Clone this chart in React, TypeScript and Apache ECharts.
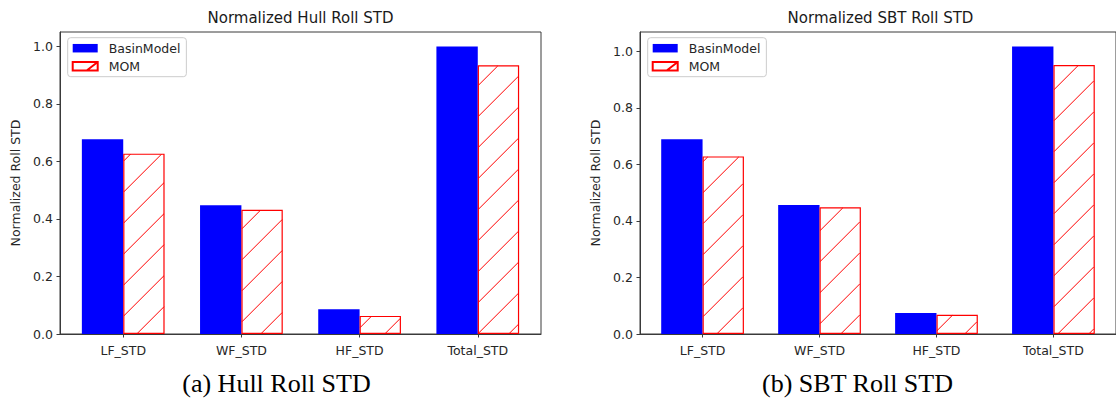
import React, { useRef, useEffect } from 'react';
import * as echarts from 'echarts';

// data
const categories = ['LF_STD', 'WF_STD', 'HF_STD', 'Total_STD'];
const hullBasin = [0.677, 0.448, 0.086, 1.0];
const hullMom = [0.627, 0.432, 0.063, 0.934];
const sbtBasin = [0.689, 0.456, 0.074, 1.017];
const sbtMom = [0.628, 0.448, 0.068, 0.951];
const yTicks = [0, 0.2, 0.4, 0.6, 0.8, 1.0];
const xTicks = categories.map((_, i) => i);

const BAR_W = 0.35;
const AXIS = '#3a3a3a';
const TEXT = '#262626';
const FONT = 'DejaVu Sans';

// matplotlib-like x limits: bar extent plus 5% margin
const span = categories.length - 1 + 2 * BAR_W;
const xMin = -BAR_W - 0.05 * span;
const xMax = categories.length - 1 + BAR_W + 0.05 * span;

const panels = [
  { title: 'Normalized Hull Roll STD', caption: '(a) Hull Roll STD', basin: hullBasin, mom: hullMom, left: 60, width: 481, captionX: 276.5, phase: 5.7 },
  { title: 'Normalized SBT Roll STD', caption: '(b) SBT Roll STD', basin: sbtBasin, mom: sbtMom, left: 640, width: 481, captionX: 857.5, phase: 27.7 },
];

const GRID_TOP = 32;
const GRID_H = 302;

const hatchRender = (phase: number) => (params: any, api: any) => {
  const i = api.value(0);
  const v = api.value(1);
  const base = api.coord([i, 0]);
  const top = api.coord([i, v]);
  const w = api.size([BAR_W, 0])[0];
  const x0 = base[0] + 0.6;
  const x1 = base[0] + w - 0.6;
  const y0 = top[1] + 0.6;
  const y1 = base[1];
  const step = 31;
  const children: any[] = [];
  let c = Math.floor((x0 + y0 - phase) / step) * step + phase;
  for (; c <= x1 + y1; c += step) {
    const xa = Math.max(x0, c - y1);
    const xb = Math.min(x1, c - y0);
    if (xb - xa < 0.5) continue;
    children.push({
      type: 'line',
      shape: { x1: xa, y1: c - xa, x2: xb, y2: c - xb },
      style: { stroke: '#ff0000', lineWidth: 1 },
    });
  }
  return { type: 'group', children };
};

function buildOption(): echarts.EChartsOption {
  const grid: any[] = [];
  const xAxis: any[] = [];
  const yAxis: any[] = [];
  const series: any[] = [];
  const legend: any[] = [];
  const graphic: any[] = [];

  panels.forEach((p, k) => {
    const yMax = Math.max(...p.basin, ...p.mom) * 1.05;
    const barPx = (p.width / (xMax - xMin)) * BAR_W;
    grid.push({
      left: p.left, top: GRID_TOP, width: p.width, height: GRID_H,
      show: true, borderColor: AXIS, borderWidth: 1, containLabel: false,
    });
    xAxis.push({
      type: 'value', gridIndex: k, min: xMin, max: xMax,
      axisLine: { show: true, onZero: false, lineStyle: { color: AXIS, width: 1 } },
      axisTick: { show: true, customValues: xTicks, length: 3.5, lineStyle: { color: AXIS } },
      axisLabel: {
        customValues: xTicks,
        formatter: (v: number) => categories[Math.round(v)] ?? '',
        fontFamily: FONT, fontSize: 12.5, color: TEXT, margin: 10,
      },
      splitLine: { show: false },
    });
    yAxis.push({
      type: 'value', gridIndex: k, min: 0, max: yMax,
      name: 'Normalized Roll STD', nameLocation: 'middle', nameGap: 38,
      nameTextStyle: { fontFamily: FONT, fontSize: 12.5, color: TEXT },
      axisLine: { show: true, onZero: false, lineStyle: { color: AXIS, width: 1 } },
      axisTick: { show: true, customValues: yTicks, length: 3.5, lineStyle: { color: AXIS } },
      axisLabel: {
        customValues: yTicks,
        formatter: (v: number) => v.toFixed(1),
        fontFamily: FONT, fontSize: 12.5, color: TEXT, margin: 7,
      },
      splitLine: { show: false },
    });
    series.push(
      {
        name: 'BasinModel', type: 'bar', xAxisIndex: k, yAxisIndex: k,
        barWidth: barPx, barGap: '0%',
        itemStyle: { color: '#0000ff', borderWidth: 0 },
        data: p.basin.map((v, i) => [i, v]),
      },
      {
        name: 'MOM', type: 'bar', xAxisIndex: k, yAxisIndex: k,
        barWidth: barPx, barGap: '0%',
        itemStyle: { color: '#ffffff', borderColor: '#ff0000', borderWidth: 1.2 },
        data: p.mom.map((v, i) => [i, v]),
      },
      {
        name: 'MOM hatch', type: 'custom', xAxisIndex: k, yAxisIndex: k,
        silent: true, z: 3,
        renderItem: hatchRender(p.phase),
        data: p.mom.map((v, i) => [i, v]),
      },
    );
    legend.push({
      orient: 'vertical', left: p.left + 7.7, top: 37.7,
      padding: [4, 6, 4, 4], itemGap: 5, itemWidth: 25, itemHeight: 8.5,
      backgroundColor: 'rgba(255,255,255,0.8)', borderColor: '#cccccc', borderWidth: 1, borderRadius: 3,
      textStyle: { fontFamily: FONT, fontSize: 12.5, color: TEXT, padding: [0, 0, 0, 6] },
      data: [
        { name: 'BasinModel', icon: 'rect' },
        { name: 'MOM', icon: 'path://M0 0H25V8.5H0ZM14 8.5L25 0' },
      ],
    });
    graphic.push(
      {
        type: 'text', x: p.left + p.width / 2, y: 18.3,
        style: { text: p.title, textAlign: 'center', textVerticalAlign: 'middle', font: `15px "${FONT}"`, fill: '#1a1a1a' },
      },
      {
        type: 'text', x: p.captionX, y: 383,
        style: { text: p.caption, textAlign: 'center', textVerticalAlign: 'middle', font: '26px "Liberation Serif"', fill: '#000' },
      },
    );
  });

  return { animation: false, backgroundColor: '#fff', grid, xAxis, yAxis, series, legend, graphic };
}

const RollStdChart: React.FC = () => {
  const chartRef = useRef<HTMLDivElement>(null);

  useEffect(() => {
    if (!chartRef.current) return;
    const chart = echarts.init(chartRef.current, undefined, { renderer: 'svg' });
    chart.setOption(buildOption());
    return () => {
      chart.dispose();
    };
  }, []);

  return (
    <div
      ref={chartRef}
      style={{ position: 'absolute', left: 0, top: 0, width: 1116, height: 400, background: '#fff', overflow: 'hidden' }}
    />
  );
};

export default function App() {
  return <RollStdChart />;
}
